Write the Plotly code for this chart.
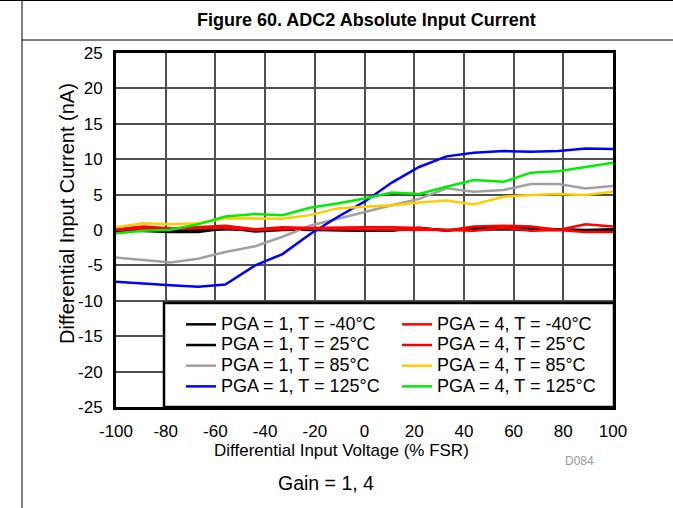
import plotly.graph_objects as go

x_pct = [-100, -89, -78, -67, -56, -44, -33, -22, -11, 0, 11, 22, 33, 44, 56, 67, 78, 89, 100]

pga1_m40 = [-0.2, 0.0, -0.1, -0.1, 0.3, -0.2, 0.0, 0.1, 0.0, -0.1, 0.0, 0.2, 0.0, 0.1, 0.2, 0.1, 0.0, 0.0, 0.1]
pga1_25 = [0.0, -0.2, -0.3, -0.3, 0.2, 0.0, 0.1, 0.0, 0.0, 0.0, -0.1, 0.3, -0.1, 0.3, 0.3, 0.2, 0.1, -0.1, -0.2]
pga1_85 = [-3.9, -4.2, -4.6, -4.05, -3.1, -2.3, -0.95, 0.6, 1.6, 2.6, 3.5, 4.4, 5.9, 5.4, 5.65, 6.5, 6.5, 5.85, 6.2]
pga1_125 = [-7.3, -7.6, -7.8, -8.0, -7.7, -5.0, -3.4, -0.6, 1.8, 4.0, 6.7, 8.9, 10.4, 10.9, 11.15, 11.05, 11.15, 11.5, 11.45]
pga4_m40 = [0.1, 0.5, 0.2, 0.4, 0.6, 0.1, 0.4, 0.3, 0.4, 0.4, 0.4, 0.3, -0.1, 0.5, 0.6, 0.5, 0.0, 0.8, 0.5]
pga4_25 = [0.0, 0.2, 0.1, 0.3, 0.3, 0.0, 0.1, 0.2, 0.1, 0.1, 0.0, 0.1, 0.0, -0.1, 0.3, -0.1, 0.0, -0.3, -0.3]
pga4_85 = [0.4, 0.95, 0.8, 0.95, 1.65, 1.6, 1.6, 2.1, 3.05, 3.3, 3.5, 3.9, 4.15, 3.6, 4.7, 4.95, 5.1, 4.95, 5.4]
pga4_125 = [-0.45, -0.1, 0.05, 0.8, 1.9, 2.25, 2.1, 3.15, 3.75, 4.45, 5.3, 5.1, 6.1, 7.05, 6.8, 8.1, 8.3, 8.95, 9.5]

x_ticks = [-100, -80, -60, -40, -20, 0, 20, 40, 60, 80, 100]
x_tick_text = ["-100", "-80", "-60", "-40", "-20", "0", "20", "40", "60", "80", "100"]
y_ticks = [-25, -20, -15, -10, -5, 0, 5, 10, 15, 20, 25]
y_tick_text = ["-25", "-20", "-15", "-10", "-5", "0", "5", "10", "15", "20", "25"]

FONT = "Liberation Sans, Arial, sans-serif"

series = [
    ("PGA = 1, T = -40°C", pga1_m40, "#000000", "legend"),
    ("PGA = 1, T = 25°C", pga1_25, "#000000", "legend"),
    ("PGA = 1, T = 85°C", pga1_85, "#a0a0a0", "legend"),
    ("PGA = 1, T = 125°C", pga1_125, "#0000ff", "legend"),
    ("PGA = 4, T = -40°C", pga4_m40, "#ff0000", "legend2"),
    ("PGA = 4, T = 25°C", pga4_25, "#ff0000", "legend2"),
    ("PGA = 4, T = 85°C", pga4_85, "#ffcc00", "legend2"),
    ("PGA = 4, T = 125°C", pga4_125, "#00ee00", "legend2"),
]

fig = go.Figure()
for name, ys, col, leg in series:
    fig.add_trace(go.Scatter(x=x_pct, y=ys, mode="lines",
                             name='<span style="font-size:18px">%s</span>' % name,
                             line=dict(color=col, width=2.5), legend=leg))

W, H = 673, 508
L, R, T, B = 116, 60, 53, 101
pw, ph = W - L - R, H - T - B

def px(xp):
    return (xp - L) / pw

def py(yp):
    return (H - B - yp) / ph

leg_common = dict(xanchor="left", yanchor="top", bgcolor="rgba(0,0,0,0)", borderwidth=0,
                  traceorder="normal", font=dict(family=FONT, size=13.6, color="black"))

fig.update_layout(
    width=W, height=H,
    margin=dict(l=L, r=R, t=T, b=B),
    paper_bgcolor="white", plot_bgcolor="white",
    font=dict(family=FONT, size=17, color="black"),
    showlegend=True,
    legend=dict(x=px(181), y=py(309), **leg_common),
    legend2=dict(x=px(397), y=py(309), **leg_common),
    xaxis=dict(range=[-100, 100], tickmode="array", tickvals=x_ticks, ticktext=x_tick_text,
               showgrid=True, gridcolor="#505050", gridwidth=1.6,
               zeroline=False, showline=True, linecolor="black", linewidth=3, mirror=True,
               ticks="", tickfont=dict(size=17), ticklabelstandoff=7, fixedrange=True),
    yaxis=dict(range=[-25, 25], tickmode="array", tickvals=y_ticks, ticktext=y_tick_text,
               showgrid=True, gridcolor="#505050", gridwidth=1.6,
               zeroline=False, showline=True, linecolor="black", linewidth=3, mirror=True,
               ticks="", tickfont=dict(size=17), ticklabelstandoff=7, fixedrange=True),
)

# legend box
fig.add_shape(type="rect", xref="paper", yref="paper", x0=px(164), x1=px(614), y0=py(407), y1=py(303),
              fillcolor="white", line=dict(color="black", width=2.5), layer="above")

# frame lines
fig.add_shape(type="line", xref="paper", yref="paper", x0=px(0), x1=px(W), y0=py(0.5), y1=py(0.5),
              line=dict(color="black", width=1))
fig.add_shape(type="line", xref="paper", yref="paper", x0=px(22), x1=px(W), y0=py(40), y1=py(40),
              line=dict(color="black", width=1))
fig.add_shape(type="line", xref="paper", yref="paper", x0=px(22), x1=px(22), y0=py(0), y1=py(H),
              line=dict(color="black", width=1))

ann = dict(xref="paper", yref="paper", showarrow=False, xanchor="center", yanchor="middle")
fig.add_annotation(text="<b>Figure 60. ADC2 Absolute Input Current</b>",
                   x=px(366), y=py(20), font=dict(size=18, family=FONT), **ann)
fig.add_annotation(text="Differential Input Voltage (% FSR)",
                   x=px(341), y=py(450), font=dict(size=17, family=FONT), **ann)
fig.add_annotation(text="Differential Input Current (nA)",
                   x=px(67), y=py(214), textangle=-90, font=dict(size=20, family=FONT), **ann)
fig.add_annotation(text="D084",
                   x=px(579), y=py(461), font=dict(size=12, family=FONT, color="#999999"), **ann)
fig.add_annotation(text="Gain = 1, 4",
                   x=px(326), y=py(483), font=dict(size=19.5, family=FONT), **ann)

fig.write_html("out.html", config={"displayModeBar": False},
               post_script="document.body.style.margin='0';document.body.style.overflow='hidden';")
